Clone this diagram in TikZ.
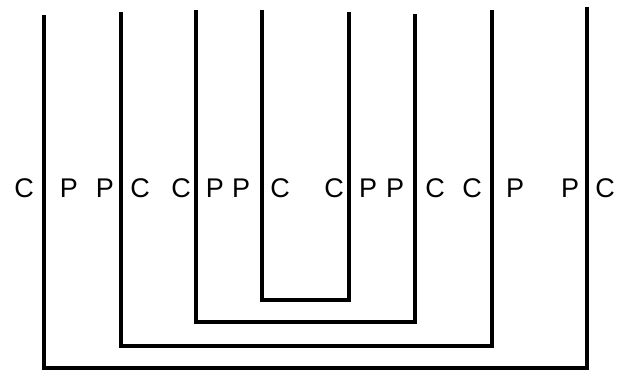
\documentclass[tikz,border=0pt]{standalone}
\usepackage{fontspec}
\setmainfont{Liberation Sans}
\begin{document}
\begin{tikzpicture}[x=1pt,y=-1pt,
  ubar/.style={line width=4.5pt,line join=miter,line cap=butt,black},
  lab/.style={anchor=base,inner sep=0pt,font=\fontsize{27}{32}\selectfont}]
\useasboundingbox (0,0) rectangle (620,372);
% nested U shapes
\draw[ubar] (44,15) -- (44,368) -- (587,368) -- (587,7);
\draw[ubar] (121,12) -- (121,346) -- (492,346) -- (492,10);
\draw[ubar] (196,10) -- (196,322) -- (415,322) -- (415,14);
\draw[ubar] (262,10) -- (262,300) -- (349,300) -- (349,12);
% labels
\node[lab] (l1)  at (24,197)  {C};
\node[lab] (l2)  at (69,197)  {P};
\node[lab] (l3)  at (105,197) {P};
\node[lab] (l4)  at (140,197) {C};
\node[lab] (l5)  at (181,197) {C};
\node[lab] (l6)  at (215,197) {P};
\node[lab] (l7)  at (241,197) {P};
\node[lab] (l8)  at (280,197) {C};
\node[lab] (l9)  at (334,197) {C};
\node[lab] (l10) at (368,197) {P};
\node[lab] (l11) at (395,197) {P};
\node[lab] (l12) at (435,197) {C};
\node[lab] (l13) at (472,197) {C};
\node[lab] (l14) at (515,197) {P};
\node[lab] (l15) at (570,197) {P};
\node[lab] (l16) at (605,197) {C};
\end{tikzpicture}
\end{document}
